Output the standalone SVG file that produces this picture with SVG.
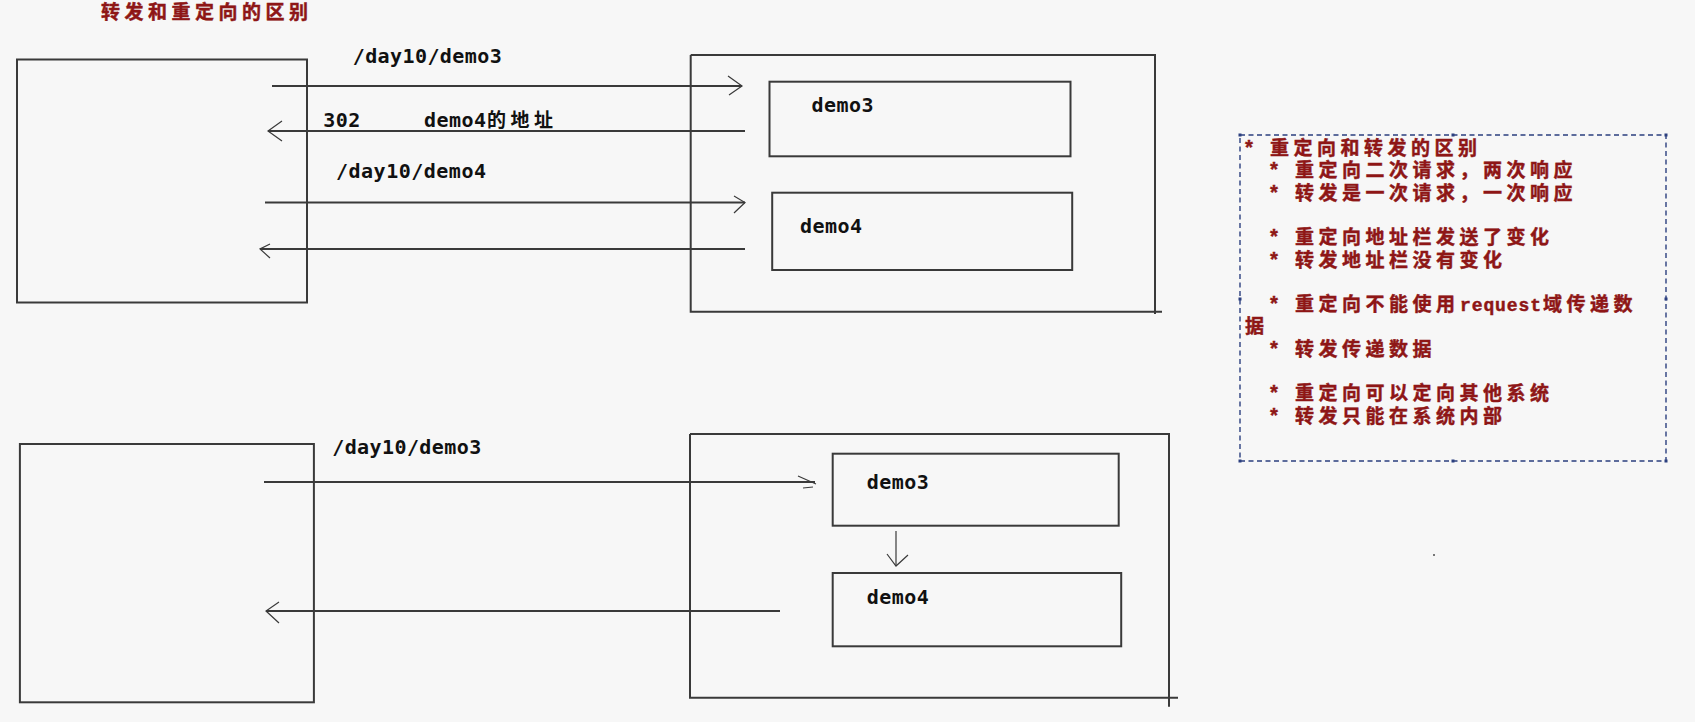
<svg xmlns="http://www.w3.org/2000/svg" width="1695" height="722" viewBox="0 0 1695 722">
<style>
.bg{fill:#f7f7f7}
.box{fill:none;stroke:#3a3a3a;stroke-width:2}
.ln{fill:none;stroke:#3a3a3a;stroke-width:2}
.hd{fill:none;stroke:#3a3a3a;stroke-width:1.2}
.lbl{font-family:"DejaVu Sans Mono","Liberation Mono",monospace;font-weight:bold;font-size:20px;fill:#111}
.cjk{font-family:"Noto Sans CJK SC",sans-serif;font-weight:bold;font-size:19px}
.red{fill:#8e1616;stroke:#8e1616;stroke-width:0.45;font-family:"Noto Sans CJK SC",sans-serif;font-weight:bold;font-size:19px;letter-spacing:4.5px}
.ast{font-family:"Liberation Mono",monospace;font-weight:bold;font-size:20px;letter-spacing:0}
.req{font-family:"Liberation Mono",monospace;font-weight:bold;font-size:18px;letter-spacing:0.9px}
.dash{fill:none;stroke:#2b3f7f;stroke-width:1.4;stroke-dasharray:5 3.5}
.hdl{fill:#2b3f7f}
</style>
<rect class="bg" x="0" y="0" width="1695" height="722"/>

<g id="title">
<text class="red" x="101" y="19">转发和重定向的区别</text>
</g>

<g id="client1"><rect class="box" x="17" y="59.5" width="290" height="243"/></g>
<g id="server1">
<path class="box" d="M690.7,55 H1155 V314 M690.7,55 V311.7 H1162"/>
</g>
<g id="demo3-a"><rect class="box" x="769.5" y="81.7" width="301" height="74.6"/><text class="lbl" x="811.6" y="111.7" textLength="62">demo3</text></g>
<g id="demo4-a"><rect class="box" x="772.2" y="192.7" width="300" height="77.3"/><text class="lbl" x="800.1" y="233.3" textLength="62">demo4</text></g>

<g id="client2"><rect class="box" x="19.9" y="444" width="294" height="258.3"/></g>
<g id="server2">
<path class="box" d="M690,434 H1169 V706.7 M690,434 V697.7 H1178"/>
</g>
<g id="demo3-b"><rect class="box" x="832.7" y="453.7" width="286" height="72"/><text class="lbl" x="866.7" y="489" textLength="62">demo3</text></g>
<g id="demo4-b"><rect class="box" x="832.7" y="573" width="288.5" height="73.3"/><text class="lbl" x="866.7" y="604" textLength="62">demo4</text></g>

<g id="connectors">
<path class="ln" d="M272,86 H742"/><path class="hd" d="M728,76 L742,86 L729,95"/>
<path class="ln" d="M745,131 H268"/><path class="hd" d="M282,121 L268,131 L282,141"/>
<path class="ln" d="M265,202.5 H745"/><path class="hd" d="M734,196 L745,202.5 L734,213"/>
<path class="ln" d="M745,249 H260"/><path class="hd" d="M270,244 L260,249 L270,258"/>
<path class="ln" d="M264,482 H815"/><path class="hd" d="M798,476 L816,484 M803,488 L813,487"/>
<path class="ln" d="M780,611 H266"/><path class="hd" d="M279,602 L266,611 L279,623"/>
<path class="hd" d="M896,531 V566"/><path class="hd" d="M887,554 L896,566 L908,555"/>
<text class="lbl" x="352.7" y="62.7" textLength="149">/day10/demo3</text>
<text class="lbl" x="323.3" y="127.3" textLength="37">302</text>
<text class="lbl" x="424" y="127.3"><tspan textLength="62">demo4</tspan><tspan class="cjk" x="487" letter-spacing="4.5">的地址</tspan></text>
<text class="lbl" x="336" y="177.7" textLength="150">/day10/demo4</text>
<text class="lbl" x="332.2" y="454" textLength="149">/day10/demo3</text>
</g>

<g id="notes">
<path class="dash" d="M1240,135 H1666 V461 H1240 Z"/>
<rect class="hdl" x="1238.5" y="133.5" width="3" height="3"/>
<rect class="hdl" x="1451.5" y="133.5" width="3" height="3"/>
<rect class="hdl" x="1664.5" y="133.5" width="3" height="3"/>
<rect class="hdl" x="1238.5" y="297.5" width="3" height="3"/>
<rect class="hdl" x="1664.5" y="297.5" width="3" height="3"/>
<rect class="hdl" x="1238.5" y="459.5" width="3" height="3"/>
<rect class="hdl" x="1451.5" y="459.5" width="3" height="3"/>
<rect class="hdl" x="1664.5" y="459.5" width="3" height="3"/>
<text class="red" y="155"><tspan class="ast" x="1243">*</tspan><tspan x="1270">重定向和转发的区别</tspan></text>
<text class="red" y="177.3"><tspan class="ast" x="1268">*</tspan><tspan x="1295">重定向二次请求，两次响应</tspan></text>
<text class="red" y="199.6"><tspan class="ast" x="1268">*</tspan><tspan x="1295">转发是一次请求，一次响应</tspan></text>
<text class="red" y="244.2"><tspan class="ast" x="1268">*</tspan><tspan x="1295">重定向地址栏发送了变化</tspan></text>
<text class="red" y="266.5"><tspan class="ast" x="1268">*</tspan><tspan x="1295">转发地址栏没有变化</tspan></text>
<text class="red" y="311.1"><tspan class="ast" x="1268">*</tspan><tspan x="1295">重定向不能使用</tspan><tspan class="req" x="1460">request</tspan><tspan x="1543">域传递数</tspan></text>
<text class="red" y="333.4"><tspan x="1245">据</tspan></text>
<text class="red" y="355.7"><tspan class="ast" x="1268">*</tspan><tspan x="1295">转发传递数据</tspan></text>
<text class="red" y="400.3"><tspan class="ast" x="1268">*</tspan><tspan x="1295">重定向可以定向其他系统</tspan></text>
<text class="red" y="422.6"><tspan class="ast" x="1268">*</tspan><tspan x="1295">转发只能在系统内部</tspan></text>
</g>

<rect x="1433" y="554" width="2" height="2" fill="#777"/>
</svg>
